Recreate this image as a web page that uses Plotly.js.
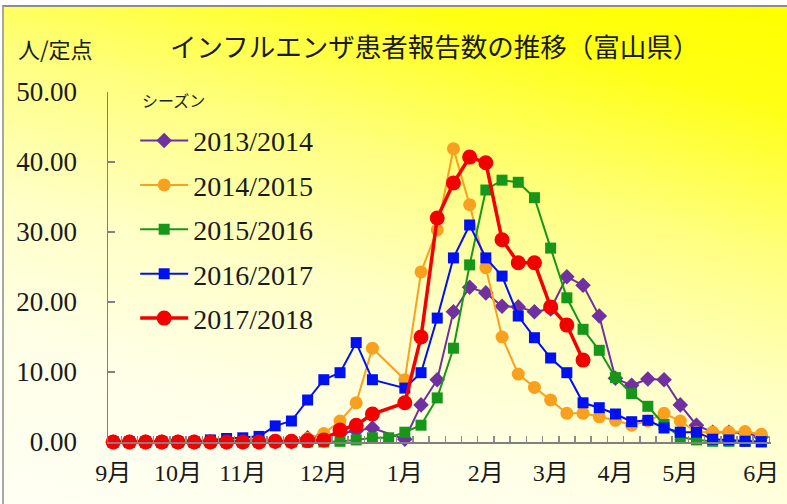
<!DOCTYPE html>
<html>
<head>
<meta charset="utf-8">
<script src="https://cdn.plot.ly/plotly-3.0.1.min.js"></script>
<style>
html,body{margin:0;padding:0;background:#fff;}
#wrap{position:relative;width:787px;height:504px;overflow:hidden;background:#fff;}
#bg{position:absolute;left:2px;top:5px;right:0;bottom:0;border-top:2px solid #8c8c8c;border-left:2px solid #a8a8a0;
background:linear-gradient(195deg,#FFFF00 0%,#FFFF14 14%,#FFFF80 36%,#FFFFC6 56%,#FFFFE8 76%,#FFFFF4 100%);}
#chart{position:absolute;left:0;top:0;width:787px;height:504px;}
</style>
</head>
<body>
<div id="wrap"><div id="bg"></div><div id="chart"></div></div>
<script>
// week slots: index 0 = week 36 ... index 17 = week 53 ... index 40 = week 23
const weekIndex = Array.from({length: 41}, (_, i) => i);
const seasons = ['2013/2014', '2014/2015', '2015/2016', '2016/2017', '2017/2018'];

const s2013 = [0,0,0,0,0,0,0,0,0,0,0,0,0.6,1.0,1.2,1.6,2.0,null,0.4,5.3,8.9,18.6,22.1,21.3,19.4,19.3,18.6,19.0,23.6,22.4,18.0,9.1,8.1,9.0,8.9,5.3,2.4,1.4,1.4,1.3,0.7];
const s2014 = [0,0,0,0,0,0,0,0,0,0,0,0,0.5,1.2,3.0,5.6,13.4,null,8.9,24.3,30.3,41.9,33.9,24.9,15.0,9.7,7.8,6.0,4.1,4.1,3.6,3.1,2.4,3.0,4.1,3.0,1.4,1.4,1.4,1.5,1.1];
const s2015 = [0,0,0,0,0,0,0,0,0,0,0,0,0,0,0.1,0.3,0.6,0.6,1.4,2.4,6.3,13.4,25.3,36.0,37.4,37.1,34.9,27.7,20.6,16.1,13.1,9.2,6.9,5.1,2.5,0.7,0.3,0.1,0.1,0.1,0.0];
const s2016 = [0,0,0,0,0,0,0.3,0.5,0.6,0.8,2.3,3.0,6.0,8.9,9.9,14.2,8.9,null,7.7,9.9,17.7,26.3,31.0,26.3,23.7,18.0,14.9,12.0,9.9,5.6,4.9,4.0,2.9,3.1,2.0,1.4,1.4,0.4,0.3,0.1,0.05];
const s2017 = [0,0,0,0,0,0,0,0,0,0,0.1,0.1,0.2,0.3,1.7,2.4,4.0,null,5.6,15.0,32.0,37.0,40.7,39.9,28.9,25.6,25.6,19.3,16.7,11.7];

const monthTickPos = [0, 4, 8, 13, 18, 23, 27, 31, 35, 40];
const monthTickText = ['9月','10月','11月','12月','1月','2月','3月','4月','5月','6月'];
const weekBoundaries = weekIndex.map(i => i + 0.5);

const serif = '"Liberation Serif", "DejaVu Serif", "Noto Sans CJK JP", serif';
const jp = '"Noto Sans CJK JP", "Noto Sans", sans-serif';

const styles = [
  {color:'#7030A0', symbol:'diamond', size:12, width:2},
  {color:'#F9A01E', symbol:'circle', size:13, width:2},
  {color:'#16971A', symbol:'square', size:11, width:2},
  {color:'#0010F5', symbol:'square', size:11, width:2},
  {color:'#F40000', symbol:'circle', size:15, width:3.5}
];
const series = [s2013, s2014, s2015, s2016, s2017];

const traces = [{type: 'scatter', mode: 'markers', x: [], y: [], xaxis: 'x2', yaxis: 'y', showlegend: false, hoverinfo: 'skip'}]
  .concat(series.map((ys, k) => ({
  type: 'scatter', mode: 'lines+markers',
  x: weekIndex.slice(0, ys.length), y: ys,
  name: seasons[k], legendgroup: 'g' + k,
  connectgaps: true, cliponaxis: false,
  line: {color: styles[k].color, width: styles[k].width},
  marker: {color: styles[k].color, symbol: styles[k].symbol, size: styles[k].size, line: {width: 0}}
})));

const xr = [-0.32, 40.6];
const layout = {
  width: 787, height: 504,
  margin: {l: 108, r: 16, t: 92, b: 62},
  paper_bgcolor: 'rgba(0,0,0,0)', plot_bgcolor: 'rgba(0,0,0,0)',
  showlegend: true,
  legend: {
    x: 0.041, y: 0.932, xanchor: 'left', yanchor: 'top',
    bgcolor: 'rgba(0,0,0,0)', borderwidth: 0,
    font: {family: serif, size: 28, color: '#1a1a1a'},
    itemwidth: 48, tracegroupgap: 5
  },
  xaxis: {
    range: xr, showgrid: false, zeroline: false,
    showline: true, linecolor: '#808080', linewidth: 1.5,
    tickmode: 'array', tickvals: monthTickPos, ticktext: monthTickText,
    ticks: '', ticklabelstandoff: 9,
    tickfont: {family: serif, size: 24, color: '#1a1a1a'}
  },
  xaxis2: {
    overlaying: 'x', anchor: 'y', side: 'bottom', range: xr,
    showgrid: false, zeroline: false, showline: false, showticklabels: false,
    tickmode: 'array', tickvals: weekBoundaries,
    ticks: 'inside', ticklen: 6, tickwidth: 1.5, tickcolor: '#8c8c8c'
  },
  yaxis: {
    range: [0, 50], showgrid: false, zeroline: false,
    showline: true, linecolor: '#808080', linewidth: 1.5,
    tickmode: 'array', tickvals: [0,10,20,30,40,50], tickformat: '.2f',
    ticks: 'inside', ticklen: 7, tickwidth: 1.5, tickcolor: '#808080',
    ticklabelstandoff: 24,
    tickfont: {family: serif, size: 27, color: '#1a1a1a'}
  },
  annotations: [
    {text: 'インフルエンザ患者報告数の推移（富山県）', xref: 'paper', yref: 'paper', x: 0.493, y: 1.0,
     xanchor: 'center', yanchor: 'middle', showarrow: false,
     font: {family: jp, size: 26.5, color: '#1a1a1a'}, yshift: 92 - 45},
    {text: '人/定点', xref: 'paper', yref: 'paper', x: 0, y: 1, xanchor: 'left', yanchor: 'middle',
     showarrow: false, font: {family: jp, size: 22, color: '#1a1a1a'}, xshift: -92, yshift: 92 - 48},
    {text: 'シーズン', xref: 'paper', yref: 'paper', x: 0, y: 1, xanchor: 'left', yanchor: 'middle',
     showarrow: false, font: {family: jp, size: 16, color: '#222'}, xshift: 140 - 108, yshift: 92 - 100}
  ]
};

Plotly.newPlot('chart', traces, layout, {displayModeBar: false, staticPlot: true});
</script>
</body>
</html>
